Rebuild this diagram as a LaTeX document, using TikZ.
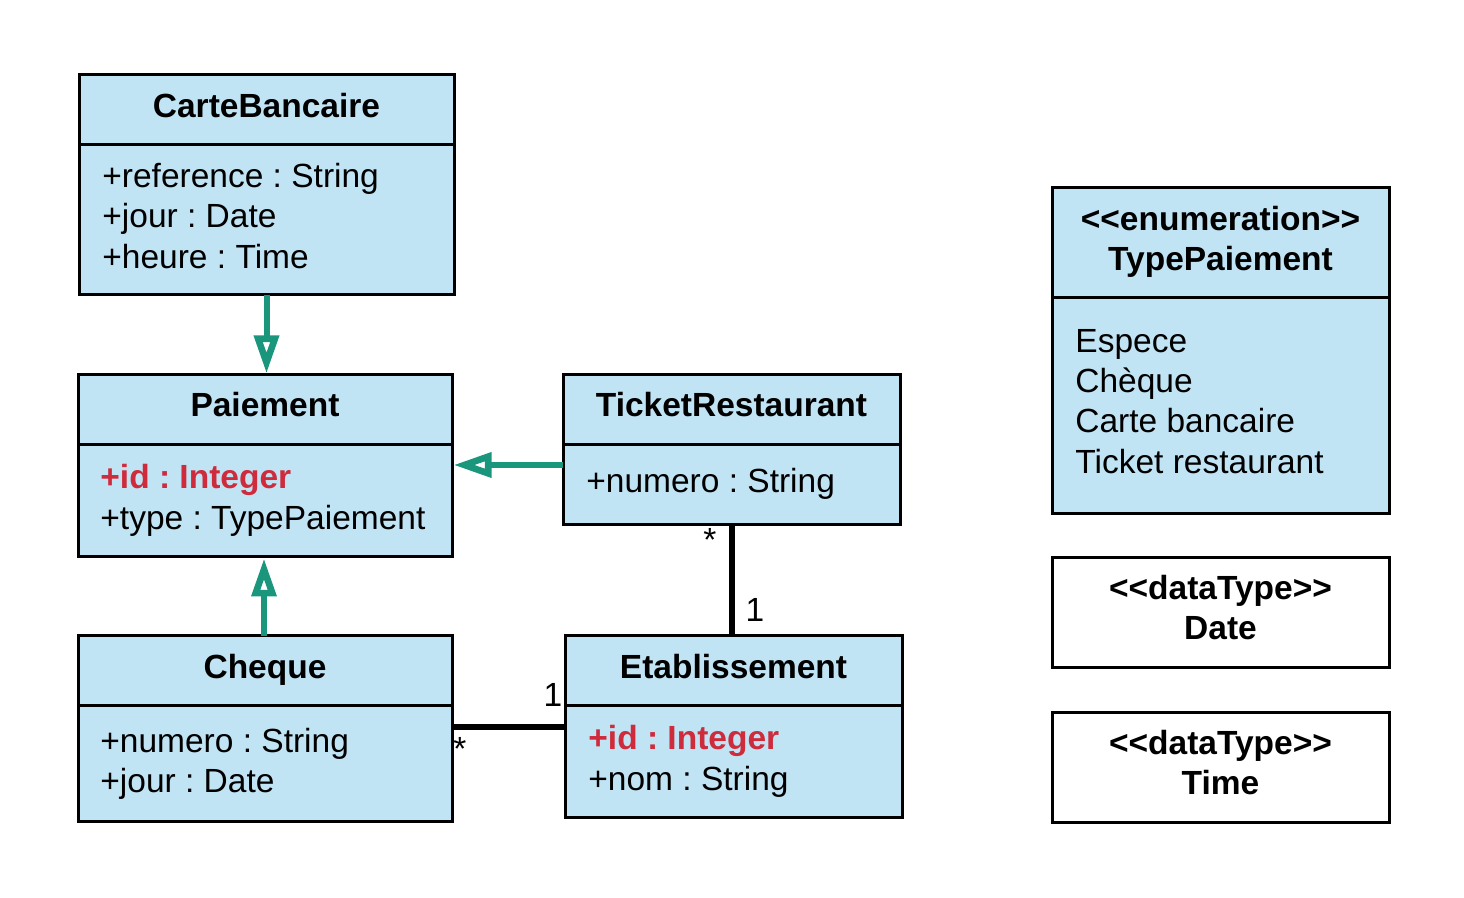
\documentclass[tikz,border=0pt]{standalone}
\usepackage{fontspec}
\setmainfont{Liberation Sans}
\usetikzlibrary{arrows.meta}
\definecolor{boxblue}{RGB}{193,228,245}
\definecolor{inhgreen}{RGB}{26,150,125}
\definecolor{keyred}{RGB}{206,44,60}
\frenchspacing
\begin{document}
\begin{tikzpicture}[x=0.5pt,y=-0.5pt,
  umlbox/.style={draw=black,line width=1.5pt,fill=boxblue,rectangle,anchor=north west,inner sep=0pt,outer sep=0pt},
  dtbox/.style={draw=black,line width=1.5pt,fill=white,rectangle,anchor=north west,inner sep=0pt,outer sep=0pt},
  divider/.style={draw=black,line width=1.5pt},
  ttl/.style={font=\fontsize{16.75}{20}\selectfont\bfseries,anchor=base,inner sep=0pt},
  attr/.style={font=\fontsize{16.75}{20}\selectfont,anchor=base west,inner sep=0pt},
  keyattr/.style={font=\fontsize{16.75}{20}\selectfont\bfseries,text=keyred,anchor=base west,inner sep=0pt},
  mult/.style={font=\fontsize{16.75}{20}\selectfont,anchor=base,inner sep=0pt},
  inherit/.style={draw=inhgreen,line width=3pt,-{Triangle[open,length=19pt,width=12pt,line width=3.3pt]}},
  assoc/.style={draw=black,line width=3pt}
]
\useasboundingbox (0,0) rectangle (1464,898);

% CarteBancaire
\node[umlbox,minimum width=187.5pt,minimum height=110pt] (cb) at (79,75) {};
\draw[divider] (79,145) -- (454,145);
\node[ttl] (cbt) at (266.5,118) {CarteBancaire};
\node[attr] (cba1) at (102,188) {+reference : String};
\node[attr] (cba2) at (102,228) {+jour : Date};
\node[attr] (cba3) at (102,269) {+heure : Time};

% Paiement
\node[umlbox,minimum width=187pt,minimum height=91pt] (pa) at (78,375) {};
\draw[divider] (78,445) -- (452,445);
\node[ttl] (pat) at (265,417) {Paiement};
\node[keyattr] (paa1) at (100,489) {+id : Integer};
\node[attr] (paa2) at (100,530) {+type : TypePaiement};

% TicketRestaurant
\node[umlbox,minimum width=168.5pt,minimum height=75pt] (tr) at (563,375) {};
\draw[divider] (563,445) -- (900,445);
\node[ttl] (trt) at (731.5,417) {TicketRestaurant};
\node[attr] (tra1) at (586,493) {+numero : String};

% Cheque
\node[umlbox,minimum width=187pt,minimum height=93pt] (ch) at (78,636) {};
\draw[divider] (78,706) -- (452,706);
\node[ttl] (cht) at (265,679) {Cheque};
\node[attr] (cha1) at (100,753) {+numero : String};
\node[attr] (cha2) at (100,793) {+jour : Date};

% Etablissement
\node[umlbox,minimum width=168.5pt,minimum height=91pt] (et) at (565,636) {};
\draw[divider] (565,706) -- (902,706);
\node[ttl] (ett) at (733.5,679) {Etablissement};
\node[keyattr] (eta1) at (588,750) {+id : Integer};
\node[attr] (eta2) at (588,791) {+nom : String};

% TypePaiement
\node[umlbox,minimum width=168.5pt,minimum height=163pt] (tp) at (1052,188) {};
\draw[divider] (1052,298) -- (1389,298);
\node[ttl] (tpt1) at (1220.5,231) {<{}<enumeration>{}>};
\node[ttl] (tpt2) at (1220.5,271) {TypePaiement};
\node[attr] (tpa1) at (1075,353) {Espece};
\node[attr] (tpa2) at (1075,393) {Chèque};
\node[attr] (tpa3) at (1075,433) {Carte bancaire};
\node[attr] (tpa4) at (1075,474) {Ticket restaurant};

% Date
\node[dtbox,minimum width=168.5pt,minimum height=55pt] (dt) at (1052,558) {};
\node[ttl] (dtt1) at (1220.5,600) {<{}<dataType>{}>};
\node[ttl] (dtt2) at (1220.5,640) {Date};

% Time
\node[dtbox,minimum width=168.5pt,minimum height=55pt] (tm) at (1052,713) {};
\node[ttl] (tmt1) at (1220.5,755) {<{}<dataType>{}>};
\node[ttl] (tmt2) at (1220.5,795) {Time};

% Generalisations
\draw[inherit] (cb.south) -- ([yshift=0.75pt]cb.south |- pa.north);
\draw[inherit] ([yshift=-7.5pt]tr.west) -- ([yshift=-7.5pt,xshift=0.75pt]tr.west -| pa.east);
\draw[inherit] ([xshift=-0.5pt]ch.north) -- ([xshift=-0.5pt,yshift=-0.75pt]ch.north |- pa.south);

% Associations
\draw[assoc] (tr.south) -- (tr.south |- et.north);
\draw[assoc] ([yshift=1pt]ch.east) -- ([yshift=1pt]ch.east -| et.west);
\node[mult] (m1) at (710,552) {*};
\node[mult] (m2) at (755,622) {1};
\node[mult] (m3) at (553,707) {1};
\node[mult] (m4) at (460,761) {*};
\end{tikzpicture}
\end{document}
